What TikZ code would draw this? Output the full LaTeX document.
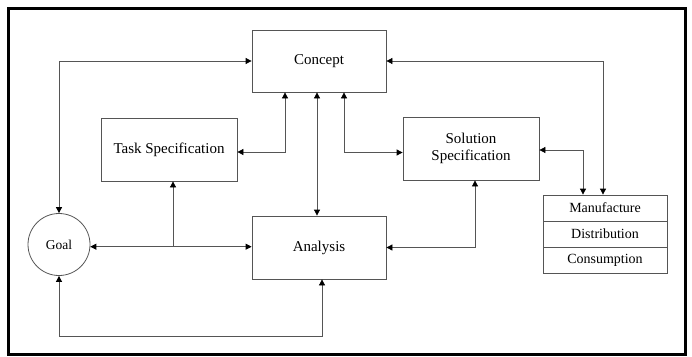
\documentclass[tikz,border=0pt]{standalone}
\usepackage{fontspec}
\setmainfont{Liberation Serif}
\usetikzlibrary{arrows.meta,calc}
\definecolor{lc}{HTML}{555555}
\begin{document}
\begin{tikzpicture}[x=1pt,y=-1pt,
  box/.style={draw=lc,line width=0.8pt,rectangle,align=center,inner sep=0pt,font=\fontsize{15}{17}\selectfont},
  cell/.style={draw=lc,line width=0.8pt,rectangle,minimum width=124pt,minimum height=26pt,inner sep=0pt,font=\fontsize{14}{15}\selectfont},
  dbl/.style={draw=lc,line width=0.8pt,{Triangle[length=6pt,width=6pt,fill=black,color=black]}-{Triangle[length=6pt,width=6pt,fill=black,color=black]}},
  sgl/.style={draw=lc,line width=0.8pt,-{Triangle[length=6pt,width=6pt,fill=black,color=black]}}]
\useasboundingbox (0,0) rectangle (692,356);
\draw[line width=3pt] (8.5,8) rectangle (685.5,354);
\node[box,minimum width=134pt,minimum height=62pt] (concept) at (319,61) {Concept};
\node[box,minimum width=136pt,minimum height=63pt] (task) at (169,149.5) {Task Specification};
\node[box,minimum width=136pt,minimum height=63pt] (sol) at (471,148.5) {Solution\\Specification};
\node[box,minimum width=134pt,minimum height=63pt] (analysis) at (319,247.5) {Analysis};
\node[draw=lc,line width=0.8pt,circle,minimum size=62pt,inner sep=0pt,font=\fontsize{13.5}{15}\selectfont] (goal) at (59,244.5) {Goal};
\node[cell] (manu) at (605,208) {Manufacture};
\node[cell] (dist) at (605,234) {Distribution};
\node[cell] (cons) at (605,260) {Consumption};
\coordinate (lp) at (322,336);
\coordinate (br) at (173,0);
% connectors
\draw[dbl] (goal.north) |- (concept.west);
\draw[dbl] (task.east |- 0,152) -| (concept.south -| 285,0);
\draw[dbl] (concept.south -| 317,0) -- (analysis.north -| 317,0);
\draw[dbl] (concept.south -| 344,0) |- (sol.west |- 0,152.5);
\draw[dbl] (concept.east) -| (manu.north -| 603,0);
\draw[dbl] (sol.east |- 0,150) -| (manu.north -| 583,0);
\draw[dbl] (goal.-4) -- (analysis.west |- goal.-4);
\draw[sgl] (br |- goal.-4) -- (task.south -| br);
\draw[dbl] (analysis.east) -| (sol.south -| 475,0);
\draw[dbl] (goal.south) |- (lp) -- (lp |- analysis.south);
\end{tikzpicture}
\end{document}
